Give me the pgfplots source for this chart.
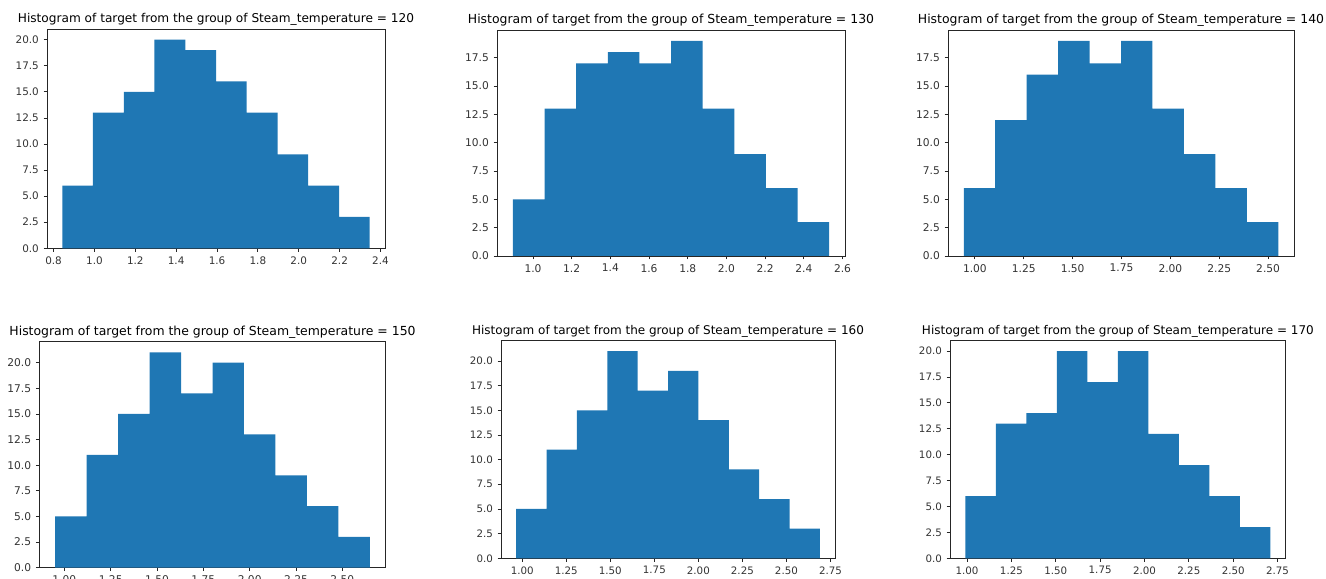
\documentclass[border=0pt]{standalone}
\usepackage{fontspec}
\setmainfont{DejaVu Sans}
\usepackage{pgfplots}
\pgfplotsset{compat=1.18}
\definecolor{c0}{HTML}{1F77B4}
\pgfplotsset{
  hist/.style n args={2}{
    scale only axis,
    axis line style={black!85, line width=0.6pt},
    tick align=outside, tick pos=left,
    major tick length=2.6pt,
    tick style={black!85, line width=0.6pt},
    ymin=0,
    title style={at={(0.5,1)}, anchor=base, yshift=-1.3pt, font=\fontsize{#1}{11}\selectfont},
    tick label style={font=\fontsize{#2}{9}\selectfont, text=black!80},
    yticklabel={\pgfmathprintnumber[assume math mode=true,fixed,fixed zerofill,precision=1]{\tick}},
  },
  xp1/.style={xticklabel={\pgfmathprintnumber[assume math mode=true,fixed,fixed zerofill,precision=1]{\tick}}},
  xp2/.style={xticklabel={\pgfmathprintnumber[assume math mode=true,fixed,fixed zerofill,precision=2]{\tick}}},
}
\begin{document}
\begin{tikzpicture}
\useasboundingbox (0,0) rectangle (994.5pt,433.5pt);
% Panel 1
\begin{axis}[hist={9.1}{7.8}, xp1, at={(35.25pt,247.3pt)}, anchor=south west,
  width=253.5pt, height=164.25pt, xmin=0.768, xmax=2.422, ymax=21,
  xtick={0.8,1.0,1.2,1.4,1.6,1.8,2.0,2.2,2.4},
  ytick={0,2.5,5,7.5,10,12.5,15,17.5,20},
  title={Histogram of target from the group of Steam\_temperature = 120}]
\addplot[fill=c0, draw=none, const plot mark left] coordinates {
(0.843,6)(0.993,13)(1.144,15)(1.294,20)(1.445,19)(1.595,16)(1.745,13)(1.896,9)(2.046,6)(2.197,3)(2.347,3)} \closedcycle;
\end{axis}
% Panel 2
\begin{axis}[hist={9.33}{8.0}, xp1, at={(372.75pt,241.5pt)}, anchor=south west,
  width=261pt, height=169.5pt, xmin=0.814, xmax=2.613, ymax=19.95,
  xtick={1.0,1.2,1.4,1.6,1.8,2.0,2.2,2.4,2.6},
  ytick={0,2.5,5,7.5,10,12.5,15,17.5},
  title={Histogram of target from the group of Steam\_temperature = 130}]
\addplot[fill=c0, draw=none, const plot mark left] coordinates {
(0.896,5)(1.060,13)(1.223,17)(1.387,18)(1.550,17)(1.714,19)(1.877,13)(2.041,9)(2.204,6)(2.368,3)(2.531,3)} \closedcycle;
\end{axis}
% Panel 3
\begin{axis}[hist={9.33}{8.0}, xp2, at={(711pt,241.5pt)}, anchor=south west,
  width=259.5pt, height=169.5pt, xmin=0.8625, xmax=2.6325, ymax=19.95,
  xtick={1.0,1.25,1.5,1.75,2.0,2.25,2.5},
  ytick={0,2.5,5,7.5,10,12.5,15,17.5},
  title={Histogram of target from the group of Steam\_temperature = 140}]
\addplot[fill=c0, draw=none, const plot mark left] coordinates {
(0.943,6)(1.104,12)(1.265,16)(1.426,19)(1.587,17)(1.748,19)(1.908,13)(2.069,9)(2.230,6)(2.391,3)(2.552,3)} \closedcycle;
\end{axis}
% Panel 4
\begin{axis}[hist={9.33}{8.0}, xp2, at={(29.5pt,7.73pt)}, anchor=south west,
  width=259.8pt, height=169.5pt, xmin=0.865, xmax=2.734, ymax=22.05,
  xtick={1.0,1.25,1.5,1.75,2.0,2.25,2.5},
  ytick={0,2.5,5,7.5,10,12.5,15,17.5,20},
  title={Histogram of target from the group of Steam\_temperature = 150}]
\addplot[fill=c0, draw=none, const plot mark left] coordinates {
(0.950,5)(1.120,11)(1.290,15)(1.460,21)(1.630,17)(1.800,20)(1.969,13)(2.139,9)(2.309,6)(2.479,3)(2.649,3)} \closedcycle;
\end{axis}
% Panel 5
\begin{axis}[hist={9.0}{7.7}, xp2, at={(375.75pt,14.78pt)}, anchor=south west,
  width=250.5pt, height=163.2pt, xmin=0.879, xmax=2.776, ymax=22.05,
  xtick={1.0,1.25,1.5,1.75,2.0,2.25,2.5,2.75},
  ytick={0,2.5,5,7.5,10,12.5,15,17.5,20},
  title={Histogram of target from the group of Steam\_temperature = 160}]
\addplot[fill=c0, draw=none, const plot mark left] coordinates {
(0.965,5)(1.138,11)(1.310,15)(1.483,21)(1.655,17)(1.828,19)(2.000,14)(2.173,9)(2.345,6)(2.518,3)(2.690,3)} \closedcycle;
\end{axis}
% Panel 6
\begin{axis}[hist={9.0}{7.7}, xp2, at={(712.5pt,14.78pt)}, anchor=south west,
  width=251.8pt, height=163.2pt, xmin=0.904, xmax=2.796, ymax=21,
  xtick={1.0,1.25,1.5,1.75,2.0,2.25,2.5,2.75},
  ytick={0,2.5,5,7.5,10,12.5,15,17.5,20},
  title={Histogram of target from the group of Steam\_temperature = 170}]
\addplot[fill=c0, draw=none, const plot mark left] coordinates {
(0.990,6)(1.162,13)(1.334,14)(1.506,20)(1.678,17)(1.850,20)(2.022,12)(2.194,9)(2.366,6)(2.538,3)(2.710,3)} \closedcycle;
\end{axis}
\end{tikzpicture}
\end{document}
